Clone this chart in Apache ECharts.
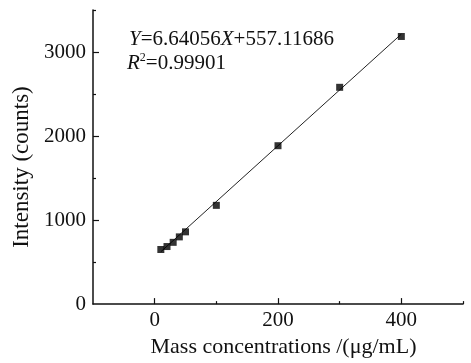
<!DOCTYPE html>
<html><head><meta charset="utf-8">
<script src="https://cdn.jsdelivr.net/npm/echarts@6/dist/echarts.min.js"></script>
<style>html,body{margin:0;padding:0;background:#fff}#c{width:471px;height:363px}</style>
</head><body><div id="c"></div>
<script>
const concentrations = [10, 20, 30, 40, 50, 100, 200, 300, 400];
const intensities = [650, 685, 735, 800, 860, 1175, 1885, 2580, 3185];
const fitX = [10, 400];
const fitY = [623, 3213];
const xLabelValues = [0, 200, 400];
const xMinorTicks = [100, 300, 500];
const yLabelValues = [0, 1000, 2000, 3000];
const yMajorTicks = [1000, 2000, 3000];
const yMinorTicks = [500, 1500, 2500, 3500];
const equationText = ['Y', '=6.64056', 'X', '+557.11686'];
const r2Text = ['R', '2', '=0.99901'];
const xName = 'Mass concentrations /(μg/mL)';
const yName = 'Intensity (counts)';

const FONT = '"Liberation Serif", "Times New Roman", serif';
const chart = echarts.init(document.getElementById('c'));
const txt = { fontFamily: FONT, fontSize: 21, color: '#111' };
const baseX = { type: 'value', min: -100, max: 500, interval: 100, splitLine: { show: false } };
const baseY = { type: 'value', min: 0, max: 3500, interval: 500, splitLine: { show: false } };
const tickStyle = { color: '#111', width: 1.2 };
chart.setOption({
  animation: false,
  grid: { left: 93, right: 8, top: 10, bottom: 52, containLabel: false },
  xAxis: [
    Object.assign({}, baseX, {
      position: 'bottom',
      name: xName, nameLocation: 'middle', nameGap: 30,
      nameTextStyle: { fontFamily: FONT, fontSize: 22, color: '#111', padding: [0, 0, 0, 11] },
      axisLine: { onZero: false, lineStyle: { color: '#111', width: 1.5 } },
      axisTick: { inside: true, length: 6, customValues: xLabelValues, lineStyle: tickStyle },
      axisLabel: Object.assign({ customValues: xLabelValues, margin: 6, formatter: v => String(v) }, txt)
    }),
    Object.assign({}, baseX, {
      position: 'bottom',
      axisLine: { show: false, onZero: false },
      axisTick: { inside: true, length: 3, customValues: xMinorTicks, lineStyle: tickStyle },
      axisLabel: { show: false }
    })
  ],
  yAxis: [
    Object.assign({}, baseY, {
      position: 'left',
      name: yName, nameLocation: 'middle', nameGap: 56, nameRotate: 90,
      nameTextStyle: { fontFamily: FONT, fontSize: 23, color: '#111', padding: [0, 20, 0, 0] },
      axisLine: { show: true, onZero: false, lineStyle: { color: '#111', width: 1.5 } },
      axisTick: { show: true, inside: true, length: 6, customValues: yMajorTicks, lineStyle: tickStyle },
      axisLabel: Object.assign({ customValues: yLabelValues, margin: 7, formatter: v => String(v) }, txt)
    }),
    Object.assign({}, baseY, {
      position: 'left',
      axisLine: { show: false, onZero: false },
      axisTick: { show: true, inside: true, length: 3, customValues: yMinorTicks, lineStyle: tickStyle },
      axisLabel: { show: false }
    })
  ],
  series: [
    {
      type: 'line', xAxisIndex: 0, yAxisIndex: 0,
      data: fitX.map((x, i) => [x, fitY[i]]),
      showSymbol: false, symbol: 'none',
      lineStyle: { color: '#222', width: 1 }, z: 2
    },
    {
      type: 'scatter', xAxisIndex: 0, yAxisIndex: 0,
      data: concentrations.map((x, i) => [x, intensities[i]]),
      symbol: 'rect', symbolSize: 7,
      itemStyle: { color: '#000' }, z: 3
    }
  ],
  graphic: [
    {
      type: 'text', left: 129, top: 29,
      style: {
        text: '{i|' + equationText[0] + '}{n|' + equationText[1] + '}{i|' + equationText[2] + '}{n|' + equationText[3] + '}',
        rich: {
          i: { fontFamily: FONT, fontSize: 21, fontStyle: 'italic', fill: '#111' },
          n: { fontFamily: FONT, fontSize: 21, fill: '#111' }
        }
      }
    },
    {
      type: 'text', left: 127, top: 52,
      style: {
        text: '{i|' + r2Text[0] + '}{s|' + r2Text[1] + '}{n|' + r2Text[2] + '}',
        rich: {
          i: { fontFamily: FONT, fontSize: 21, fontStyle: 'italic', fill: '#111', lineHeight: 22 },
          s: { fontFamily: FONT, fontSize: 12, fill: '#111', verticalAlign: 'top', lineHeight: 22, padding: [0, 0, 8, 0] },
          n: { fontFamily: FONT, fontSize: 21, fill: '#111', lineHeight: 22 }
        }
      }
    }
  ]
});
</script></body></html>
